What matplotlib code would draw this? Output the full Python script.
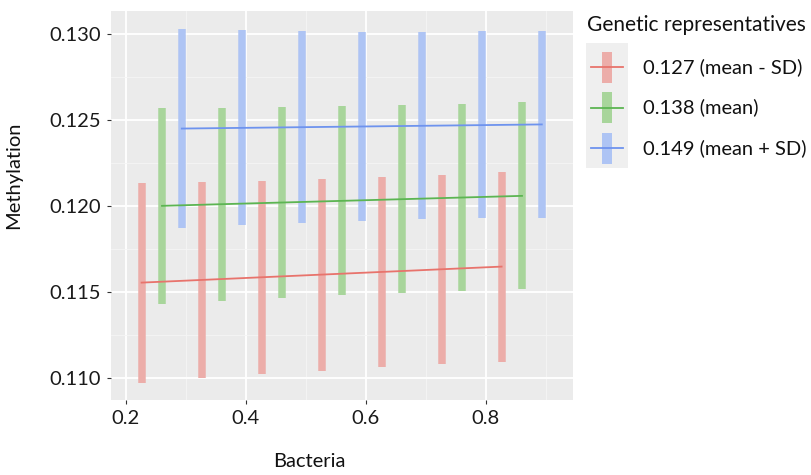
import matplotlib
matplotlib.use("Agg")
import matplotlib.pyplot as plt
from matplotlib.lines import Line2D
from matplotlib.patches import Rectangle

plt.rcParams['font.family'] = ['Lato', 'DejaVu Sans']

# data
labels = ['0.127 (mean - SD)', '0.138 (mean)', '0.149 (mean + SD)']
line_colors = ['#E8736C', '#5CB552', '#6E93EE']
bar_colors = ['#ECADA9', '#A8D59B', '#AEC4F4']

x_low = [0.226, 0.326, 0.426, 0.526, 0.626, 0.726, 0.826]
x_mid = [0.260, 0.360, 0.460, 0.560, 0.660, 0.760, 0.860]
x_high = [0.293, 0.393, 0.493, 0.593, 0.693, 0.793, 0.893]

lo_low = [0.10974, 0.11000, 0.11023, 0.11042, 0.11064, 0.11081, 0.11096]
hi_low = [0.12132, 0.12138, 0.12145, 0.12157, 0.12168, 0.12182, 0.12196]
lo_mid = [0.11434, 0.11451, 0.11467, 0.11483, 0.11498, 0.11509, 0.11517]
hi_mid = [0.12571, 0.12573, 0.12577, 0.12581, 0.12587, 0.12594, 0.12604]
lo_high = [0.11871, 0.11890, 0.11903, 0.11915, 0.11925, 0.11929, 0.11930]
hi_high = [0.13029, 0.13021, 0.13016, 0.13012, 0.13012, 0.13016, 0.13019]

fit_low = [0.11556, 0.11649]
fit_mid = [0.12002, 0.12060]
fit_high = [0.12451, 0.12475]

series = [
    (x_low, lo_low, hi_low, fit_low),
    (x_mid, lo_mid, hi_mid, fit_mid),
    (x_high, lo_high, hi_high, fit_high),
]

W, H = 811, 475
fig = plt.figure(figsize=(W / 100, H / 100), dpi=100)
ax = fig.add_axes([111 / W, 1 - 400 / H, 462 / W, 389 / H])
ax.set_facecolor('#EBEBEB')

for (xs, lo, hi, fit), lc, bc in zip(series, line_colors, bar_colors):
    ax.vlines(xs, lo, hi, colors=bc, linewidth=5.4, zorder=3)
    ax.plot([xs[0], xs[-1]], fit, color=lc, linewidth=1.3, zorder=4)

ax.set_xlim(0.175, 0.945)
ax.set_ylim(0.10874, 0.13134)
ax.set_xticks([0.2, 0.4, 0.6, 0.8])
ax.set_xticklabels(['0.2', '0.4', '0.6', '0.8'])
ax.set_yticks([0.110, 0.115, 0.120, 0.125, 0.130])
ax.set_yticklabels(['0.110', '0.115', '0.120', '0.125', '0.130'])
ax.set_xticks([0.3, 0.5, 0.7, 0.9], minor=True)
ax.set_yticks([0.1125, 0.1175, 0.1225, 0.1275], minor=True)
ax.grid(True, which='major', color='white', linewidth=1.3, zorder=0)
ax.grid(True, which='minor', color='#F5F5F5', linewidth=0.6, zorder=0)
ax.set_axisbelow(True)
for s in ax.spines.values():
    s.set_visible(False)
ax.tick_params(which='major', length=3, color='#333333', labelsize=14.5,
               labelcolor='#1a1a1a', pad=4)
ax.tick_params(which='minor', length=0)

ax.set_xlabel('Bacteria', fontsize=14.5, color='#111111')
ax.set_ylabel('Methylation', fontsize=14.5, color='#111111')
ax.xaxis.set_label_coords(0.43, -0.135)
ax.yaxis.set_label_coords(-0.193, 0.578)

# legend, drawn by hand in figure pixels
def fx(px):
    return px / W

def fy(py):
    return 1 - py / H

fig.text(fx(587), fy(25), 'Genetic representatives', fontsize=15.0,
         color='#111111', ha='left', va='center')
fig.patches.append(Rectangle((fx(586), fy(168)), 42 / W, 125 / H,
                             transform=fig.transFigure, facecolor='#EFEFEF',
                             edgecolor='none', zorder=0))
for i, (lc, bc, lab) in enumerate(zip(line_colors, bar_colors, labels)):
    yc = 67 + 40.5 * i
    fig.add_artist(Line2D([fx(607), fx(607)], [fy(yc - 15.5), fy(yc + 15.5)],
                          color=bc, linewidth=7.2, solid_capstyle='butt',
                          transform=fig.transFigure))
    fig.add_artist(Line2D([fx(591), fx(623)], [fy(yc), fy(yc)],
                          color=lc, linewidth=1.3, transform=fig.transFigure))
    fig.text(fx(643), fy(yc), lab, fontsize=14.5, color='#111111',
             ha='left', va='center')

fig.savefig('out.png', dpi=100)
